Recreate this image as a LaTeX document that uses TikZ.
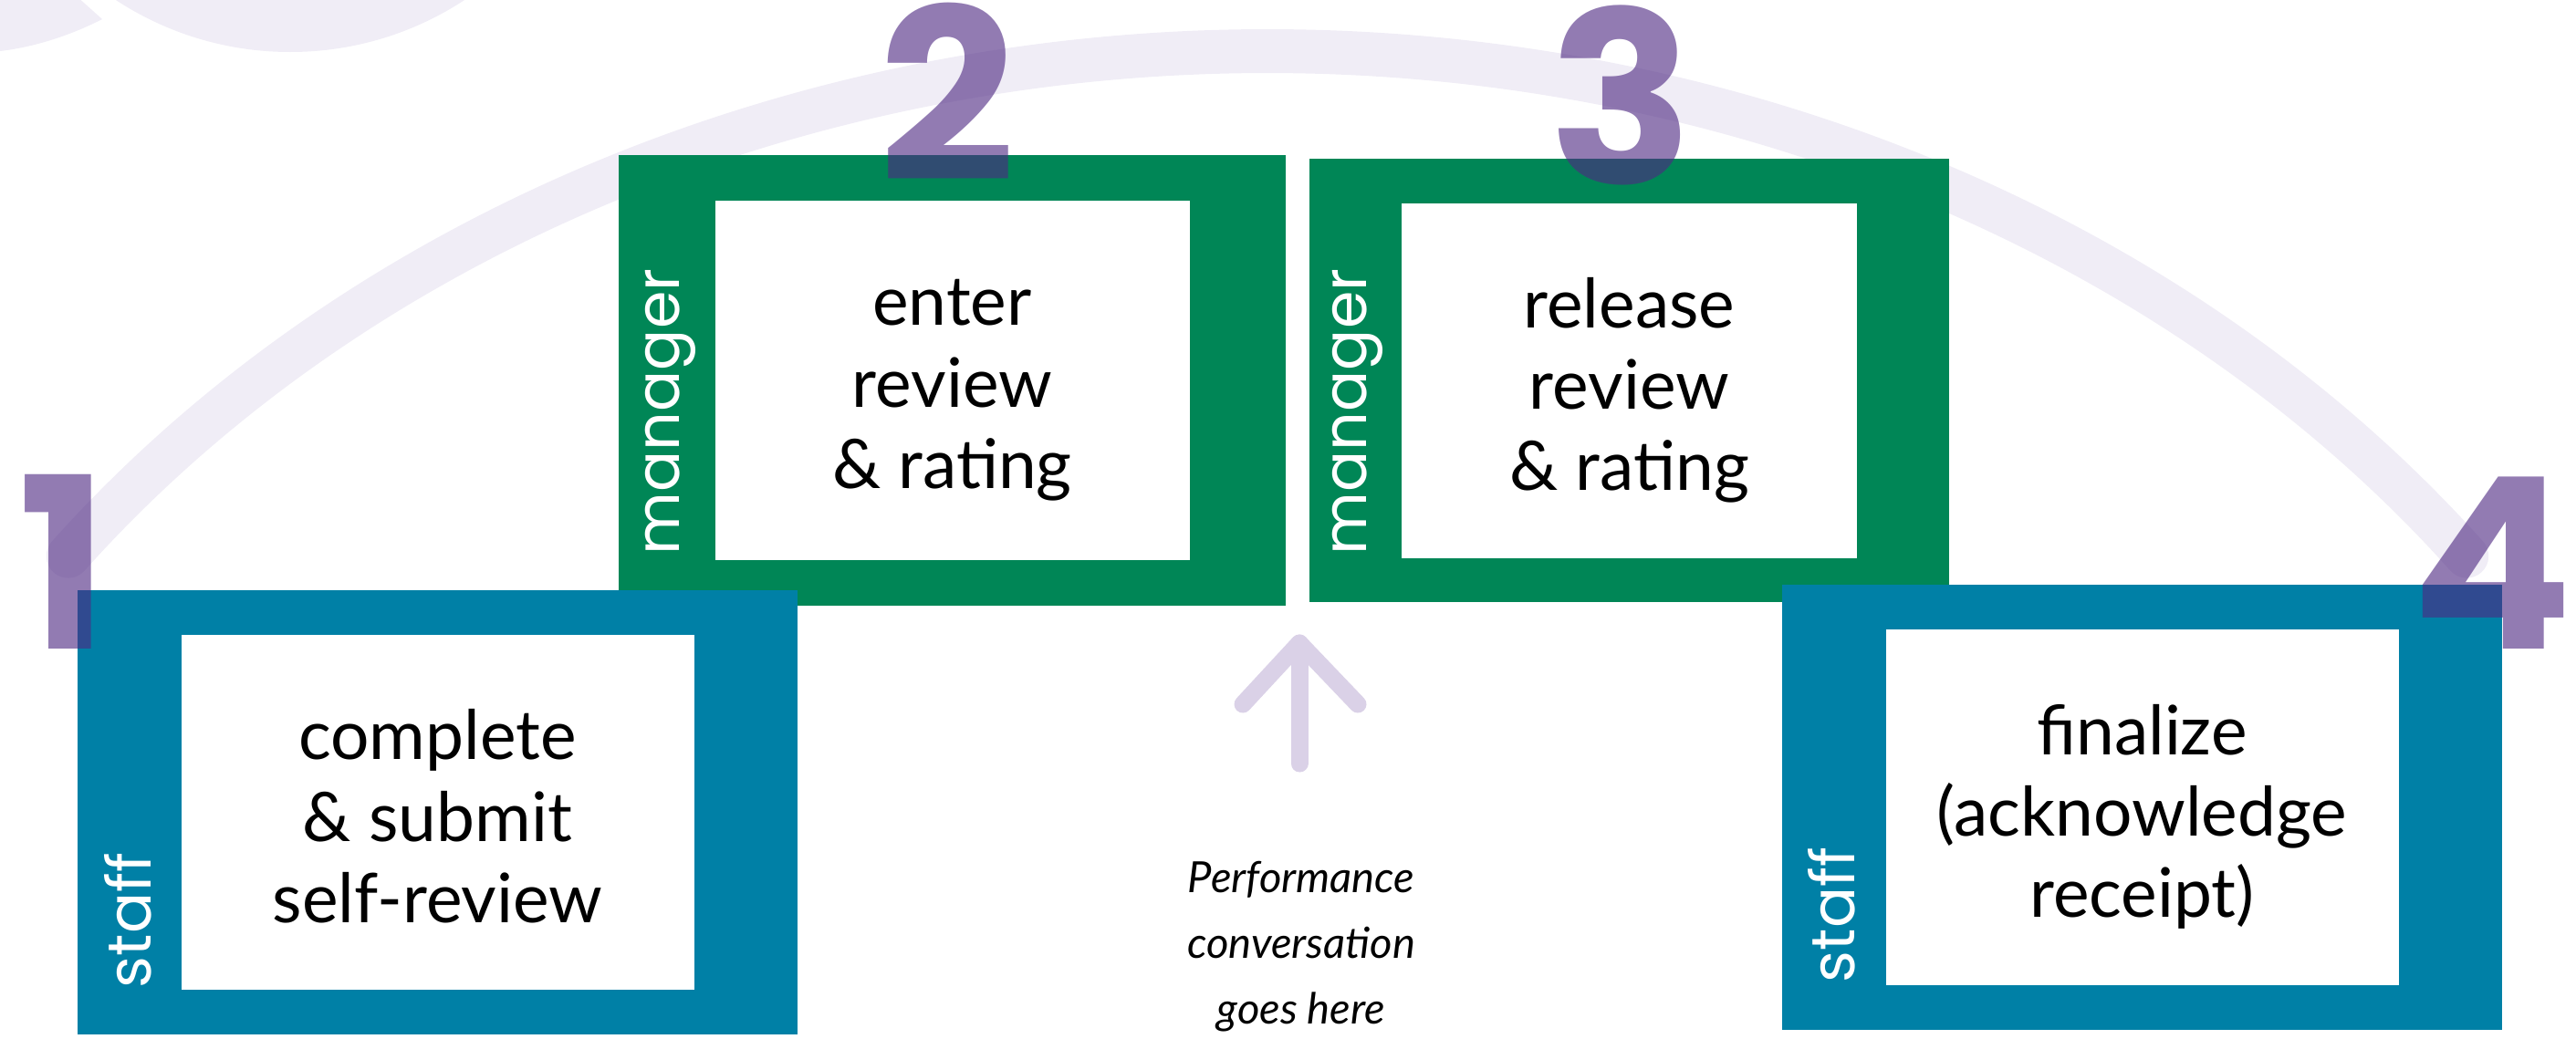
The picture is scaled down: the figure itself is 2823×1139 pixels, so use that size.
\documentclass[tikz,border=0pt]{standalone}
\usepackage{fontspec}
\setmainfont{Lato}
\newfontfamily\rolefont{Poppins}
\newfontfamily\numfont{Poppins}
\definecolor{mgrgreen}{RGB}{0,134,86}
\definecolor{staffblue}{RGB}{0,128,166}
\definecolor{steppurple}{RGB}{79,42,131}
\definecolor{arcpurple}{RGB}{240,237,246}
\definecolor{hintpurple}{RGB}{218,209,231}
\newcommand{\botstrut}{\rule[-4.6pt]{0pt}{20pt}}
\begin{document}
\begin{tikzpicture}[x=0.01cm,y=-0.01cm]
\def\px{0.01cm}
\tikzset{base/.style={inner sep=0pt,outer sep=0pt},
frame/.style={base,rectangle},
mgr/.style={frame,fill=mgrgreen},
staff/.style={frame,fill=staffblue},
card/.style={frame,fill=white},
task/.style={base,align=center,yshift=-12*\px,font=\fontsize{21.3pt}{25.4pt}\selectfont,
  execute at end node=\botstrut},
role/.style={base,rotate=90,anchor=base west,text=white,font=\rolefont\fontsize{19pt}{23pt}\selectfont},
num/.style={base,anchor=base,text=steppurple,text opacity=0.62,font=\numfont\bfseries\fontsize{74.5pt}{80pt}\selectfont},
hint/.style={draw=hintpurple,line width=19*\px,line cap=round,line join=round},
talk/.style={base,align=center,font=\itshape\fontsize{13.4pt}{20.5pt}\selectfont}}
\useasboundingbox (0,0) rectangle (2823,1139);
\clip (0,0) rectangle (2823,1139);
% background arcs
\fill[arcpurple] (318,-291.5) circle[radius=348.5];
\fill[arcpurple] (0,-5) -- (83,-5) -- (112,21) .. controls (75,40) and (35,52) .. (0,56) -- cycle;
\draw[arcpurple,line width=48*\px,line cap=round] (1389,1456) ++(-142.8:1650 and 1400)
  arc[start angle=-142.8,end angle=-37.2,x radius=1650,y radius=1400];
% manager steps
\node[mgr,minimum width=731*\px,minimum height=494*\px] at (1043.5,417) (B2) {};
\node[mgr,minimum width=701*\px,minimum height=486*\px] at (1785.5,417) (B3) {};
% staff steps
\node[staff,minimum width=789*\px,minimum height=487*\px] at (479.5,890.5) (B1) {};
\node[staff,minimum width=789*\px,minimum height=488*\px] at (2347.5,885) (B4) {};
\node[card,minimum width=562*\px,minimum height=389*\px] at (B1.center) (T1) {};
\node[card,minimum width=520*\px,minimum height=394*\px] at (B2.center) (T2) {};
\node[card,minimum width=499*\px,minimum height=389*\px] at (B3.center) (T3) {};
\node[card,minimum width=562*\px,minimum height=390*\px] at (B4.center) (T4) {};
\node[task] at (T1.center) (L1) {complete\\ \& submit\\ self-review};
\node[task] at (T2.center) (L2) {enter\\ review\\ \& rating};
\node[task] at (T3.center) (L3) {release\\ review\\ \& rating};
\node[task] at (T4.center) (L4) {finalize\\ (acknowledge\\ receipt)};
\node[role] at (166,1083) (R1) {staff};
\node[role] at (744,608) (R2) {manager};
\node[role] at (1497,608) (R3) {manager};
\node[role] at (2032,1077) (R4) {staff};
% conversation hint
\node[talk] at (1426,1038) (TALK) {Performance\\ conversation\\ goes here};
\coordinate (TIP) at (1424,705);
\coordinate (TAIL) at (1424,837);
\draw[hint] (TAIL) -- (TIP);
\draw[hint] (TIP) ++(-62,67) -- (TIP) -- ++(64,67);
% step numbers
\node[num] at (70,711) (N1) {1};
\node[num] at (1038,198) (N2) {2};
\node[num] at (1777,201) (N3) {3};
\node[num] at (2731,711) (N4) {4};
\end{tikzpicture}
\end{document}
